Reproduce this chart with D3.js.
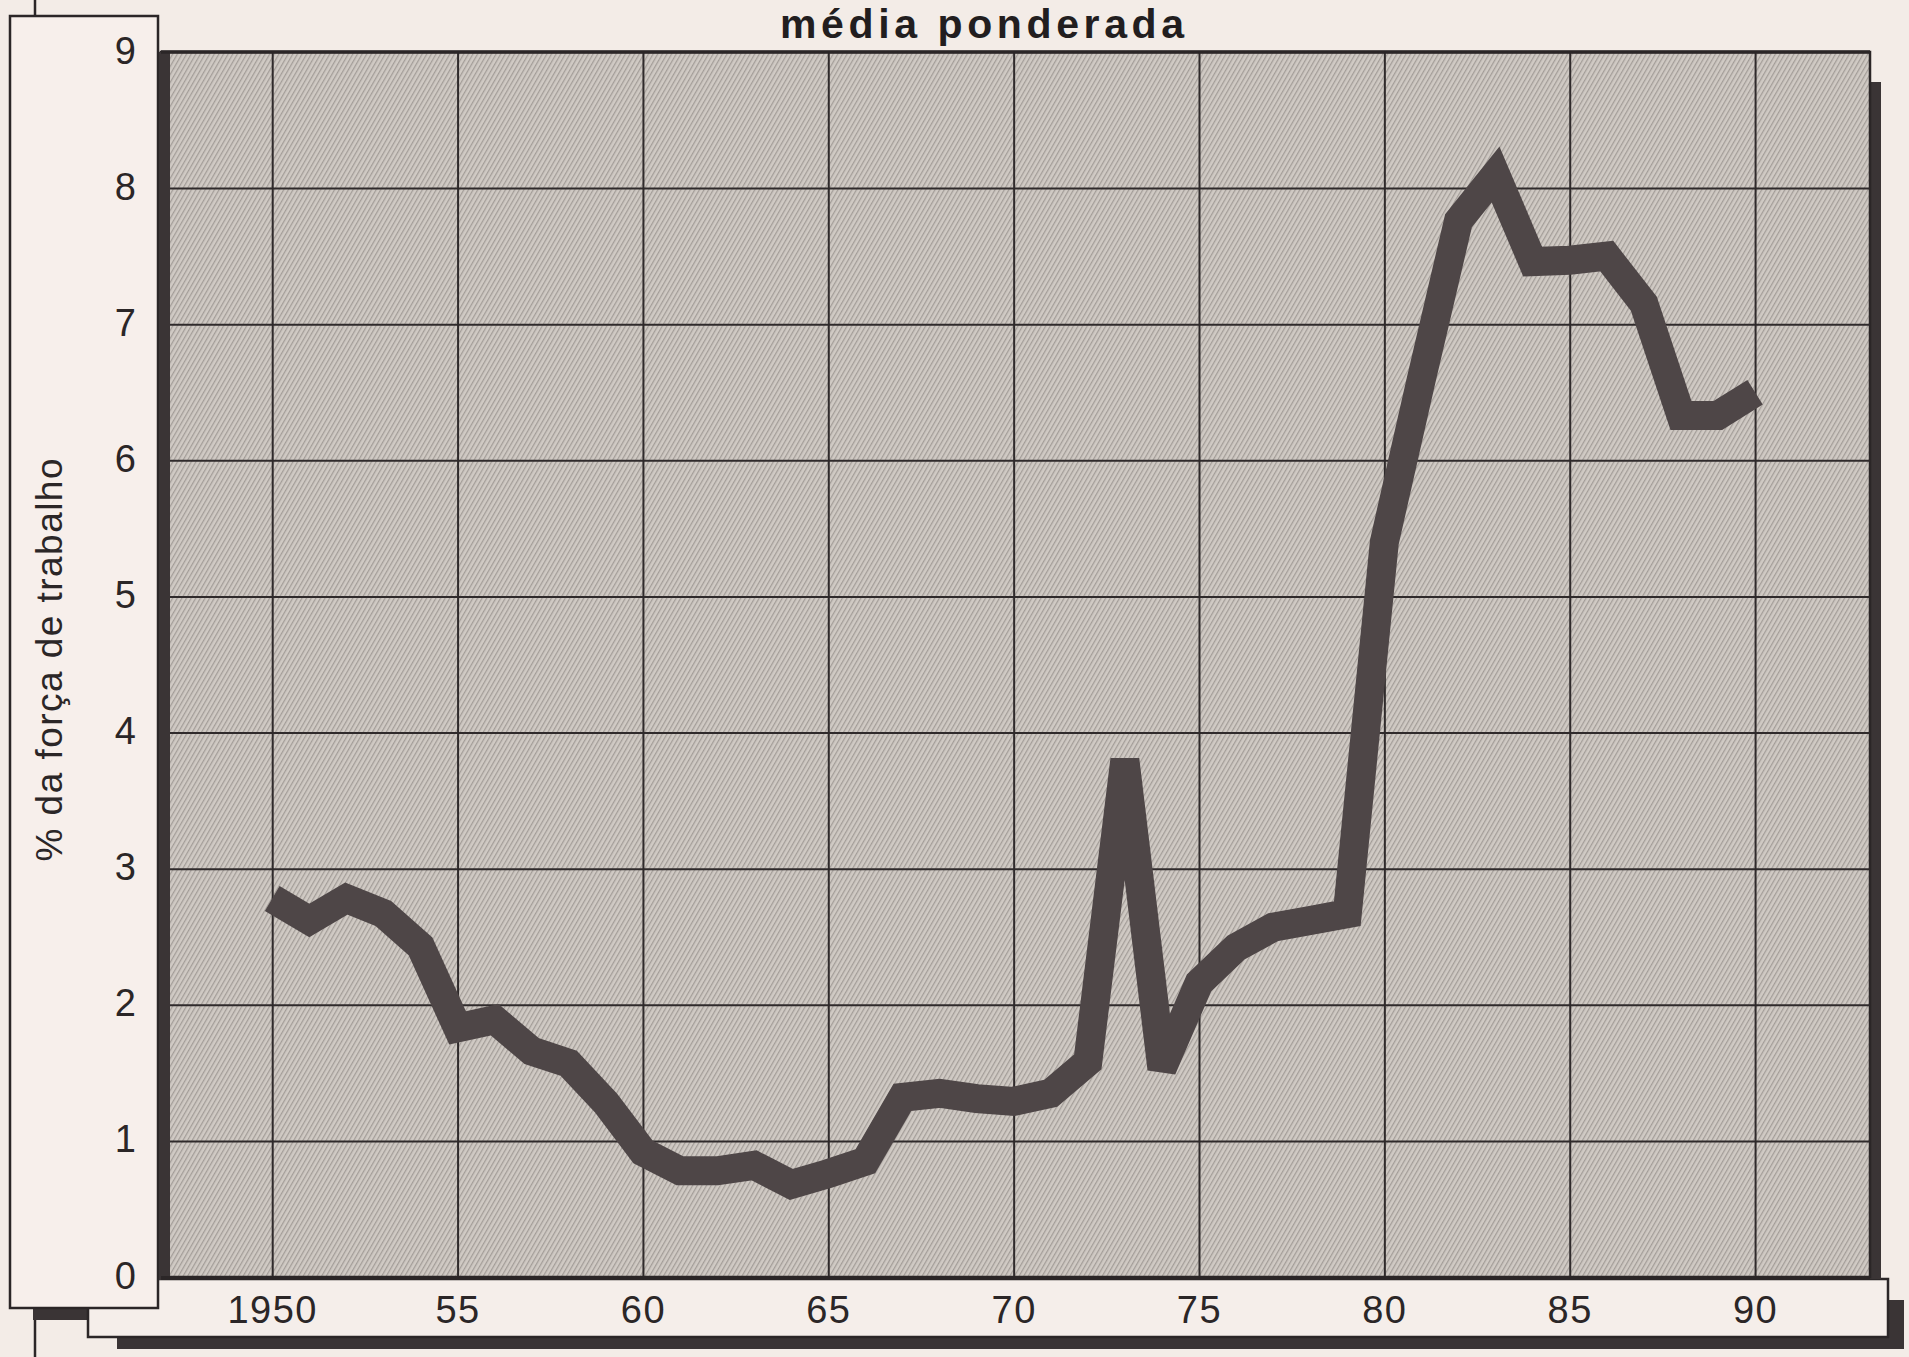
<!DOCTYPE html>
<html>
<head>
<meta charset="utf-8">
<title>média ponderada</title>
<script src="https://cdn.jsdelivr.net/npm/d3@7"></script>
<style>
    body { margin: 0; background: #f3ece7; }
    svg { display: block; }
    .tick line { stroke: #2f2a2b; stroke-width: 2; }
    .domain { display: none; }
</style>
</head>
<body>
<div id="chart"></div>
<script>

    // data (% of labour force, weighted average)
    var years = [1950, 1951, 1952, 1953, 1954, 1955, 1956, 1957, 1958, 1959,
                 1960, 1961, 1962, 1963, 1964, 1965, 1966, 1967, 1968, 1969,
                 1970, 1971, 1972, 1973, 1974, 1975, 1976, 1977, 1978, 1979,
                 1980, 1981, 1982, 1983, 1984, 1985, 1986, 1987, 1988, 1989, 1990];
    var values = [2.78, 2.62, 2.78, 2.67, 2.43, 1.83, 1.89, 1.66, 1.57, 1.28,
                  0.92, 0.78, 0.78, 0.82, 0.68, 0.76, 0.85, 1.32, 1.35, 1.31,
                  1.29, 1.35, 1.58, 3.80, 1.53, 2.16, 2.42, 2.57, 2.62, 2.67,
                  5.40, 6.60, 7.76, 8.10, 7.46, 7.47, 7.50, 7.15, 6.33, 6.33, 6.50];
    var xTicks = [1950, 1955, 1960, 1965, 1970, 1975, 1980, 1985, 1990];
    var xTickLabels = ['1950', '55', '60', '65', '70', '75', '80', '85', '90'];
    var yTicks = [0, 1, 2, 3, 4, 5, 6, 7, 8, 9];
    var title = 'média ponderada';
    var yTitle = '% da força de trabalho';

    var width = 1909;
    var height = 1357;
    var plotLeft = 161, plotRight = 1870, plotTop = 52, plotBottom = 1277;
    var ink = '#2b2627';
    var font = '"Liberation Sans", Arial, sans-serif';

    var x = d3.scaleLinear().domain([1947, 1993.1]).range([plotLeft, plotRight]);
    var y = d3.scaleLinear().domain([0, 9]).range([plotBottom, plotTop]);

    var data = years.map(function(d, i) { return {year: d, value: values[i]}; });

    var svg = d3.select('#chart')
        .append('svg')
        .attr('width', width)
        .attr('height', height);

    var defs = svg.append('defs');
    var hatch = defs.append('pattern')
        .attr('id', 'hatch')
        .attr('width', 4)
        .attr('height', 4)
        .attr('patternUnits', 'userSpaceOnUse')
        .attr('patternTransform', 'rotate(30)');
    hatch.append('rect').attr('width', 4).attr('height', 4).attr('fill', '#d0cac4');
    hatch.append('line')
        .attr('x1', 0.5).attr('y1', 0).attr('x2', 0.5).attr('y2', 4)
        .attr('stroke', '#a39d98').attr('stroke-width', 1.5);

    // paper
    svg.append('rect').attr('width', width).attr('height', height).attr('fill', '#f3ece7');

    // frame behind the panels
    svg.append('line')
        .attr('x1', 35).attr('x2', 35).attr('y1', 0).attr('y2', height)
        .attr('stroke', ink).attr('stroke-width', 2.5);

    // shadows
    svg.append('rect').attr('x', 33).attr('y', 1308).attr('width', 140).attr('height', 12).attr('fill', '#3a3435');
    svg.append('rect').attr('x', 117).attr('y', 1336).attr('width', 1787).attr('height', 13).attr('fill', '#3a3435');
    svg.append('rect').attr('x', 1886).attr('y', 1300).attr('width', 18).attr('height', 49).attr('fill', '#3a3435');

    // x label strip
    svg.append('rect')
        .attr('x', 88).attr('y', 1279).attr('width', 1800).attr('height', 58)
        .attr('fill', '#f5eeea').attr('stroke', ink).attr('stroke-width', 2.5);

    // y label strip
    svg.append('rect')
        .attr('x', 10).attr('y', 16).attr('width', 148).attr('height', 1292)
        .attr('fill', '#f7efeb').attr('stroke', ink).attr('stroke-width', 2.5);

    // plot shadow on the right
    svg.append('rect')
        .attr('x', plotRight).attr('y', 82).attr('width', 11).attr('height', plotBottom - 80)
        .attr('fill', '#3a3435');

    // plot area
    svg.append('rect')
        .attr('x', plotLeft).attr('y', plotTop)
        .attr('width', plotRight - plotLeft).attr('height', plotBottom - plotTop)
        .attr('fill', 'url(#hatch)')
        .attr('stroke', ink).attr('stroke-width', 2.5);

    // grid
    svg.append('g')
        .attr('class', 'grid')
        .attr('transform', 'translate(0,' + plotBottom + ')')
        .call(d3.axisBottom(x).tickValues(xTicks).tickSize(-(plotBottom - plotTop)).tickFormat(''));
    svg.append('g')
        .attr('class', 'grid')
        .attr('transform', 'translate(' + plotLeft + ',0)')
        .call(d3.axisLeft(y).tickValues(yTicks.slice(1, -1)).tickSize(-(plotRight - plotLeft)).tickFormat(''));

    // heavy borders
    svg.append('rect').attr('x', plotLeft - 2).attr('y', plotTop).attr('width', 11)
        .attr('height', plotBottom - plotTop + 3).attr('fill', '#3a3435');
    svg.append('line')
        .attr('x1', plotLeft).attr('x2', plotRight).attr('y1', plotTop).attr('y2', plotTop)
        .attr('stroke', ink).attr('stroke-width', 3.5);
    svg.append('line')
        .attr('x1', plotLeft).attr('x2', plotRight).attr('y1', plotBottom + 1).attr('y2', plotBottom + 1)
        .attr('stroke', ink).attr('stroke-width', 4);

    // the series
    var line = d3.line()
        .x(function(d) { return x(d.year); })
        .y(function(d) { return y(d.value); });

    svg.append('path')
        .datum(data)
        .attr('d', line)
        .attr('fill', 'none')
        .attr('stroke', '#4e4647')
        .attr('stroke-width', 29)
        .attr('stroke-linejoin', 'miter')
        .attr('stroke-miterlimit', 2)
        .attr('stroke-linecap', 'butt');

    // tick labels
    var xAxis = svg.append('g')
        .attr('transform', 'translate(0,' + plotBottom + ')')
        .call(d3.axisBottom(x).tickValues(xTicks).tickSize(0)
            .tickFormat(function(d, i) { return xTickLabels[i]; }));
    xAxis.selectAll('text')
        .attr('y', 46)
        .attr('dy', null)
        .style('font-family', font)
        .style('font-size', '38px')
        .style('letter-spacing', '1.5px')
        .style('fill', ink);

    var yAxis = svg.append('g')
        .attr('transform', 'translate(136,0)')
        .call(d3.axisLeft(y).tickValues(yTicks).tickSize(0).tickPadding(0));
    yAxis.selectAll('text')
        .attr('dy', null)
        .attr('y', 11)
        .style('font-family', font)
        .style('font-size', '38px')
        .style('fill', ink);

    // titles
    svg.append('text')
        .attr('x', 982)
        .attr('y', 38)
        .attr('text-anchor', 'middle')
        .attr('textLength', 404)
        .attr('lengthAdjust', 'spacing')
        .style('font-family', font)
        .style('font-weight', 'bold')
        .style('font-size', '41px')
        .style('fill', '#221e1f')
        .text(title);

    svg.append('text')
        .attr('transform', 'translate(62,660) rotate(-90)')
        .attr('text-anchor', 'middle')
        .attr('textLength', 403)
        .attr('lengthAdjust', 'spacing')
        .style('font-family', font)
        .style('font-size', '37px')
        .style('fill', ink)
        .text(yTitle);

</script>
</body>
</html>
